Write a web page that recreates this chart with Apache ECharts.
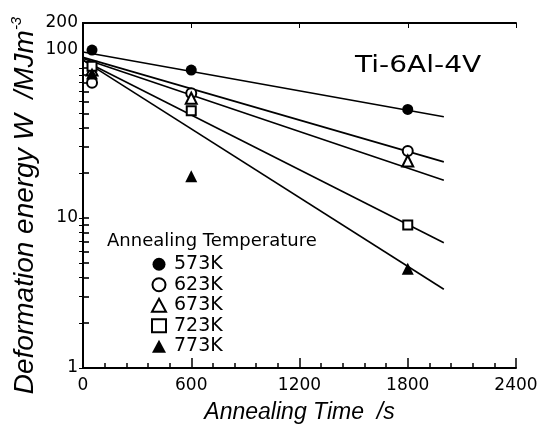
<!DOCTYPE html>
<html>
<head>
<meta charset="utf-8">
<script src="https://cdn.jsdelivr.net/npm/echarts@6/dist/echarts.min.js"></script>
<style>html,body{margin:0;padding:0;background:#fff}#c{width:538px;height:427px}</style>
</head>
<body>
<div id="c"></div>
<script>
// ---- data ----
const times = [50, 600, 1800];
const w573 = [132, 97, 53];
const w623 = [80, 68, 28];
const w673 = [97, 63, 24];
const w723 = [103, 52, 9.0];
const w773 = [92, 19, 4.6];
const fitT = [0, 2000];
const fit573 = [128, 47.4];
const fit623 = [118, 23.7];
const fit673 = [116, 17.9];
const fit723 = [113, 6.85];
const fit773 = [113, 3.35];
const seriesNames = ['573K', '623K', '673K', '723K', '773K'];
const yTicks = [1,2,3,4,5,6,7,8,9,10,20,30,40,50,60,70,80,90,100];
const yTickLabels = [1, 10, 100, 200];
const xTickLabels = ['0', '600', '1200', '1800', '2400'];

const FONT = '"Liberation Sans", Arial, sans-serif';
const DFONT = '"DejaVu Sans", sans-serif';
const pts = arr => times.map((t, i) => [t, arr[i]]);
const fit = arr => fitT.map((t, i) => [t, arr[i]]);

const symbols = [
  {symbol: 'circle', size: 11, color: '#000', border: 0},
  {symbol: 'circle', size: 10, color: '#fff', border: 2},
  {symbol: 'triangle', size: 11, color: '#fff', border: 2},
  {symbol: 'rect', size: 9, color: '#fff', border: 2},
  {symbol: 'triangle', size: 12, color: '#000', border: 0}
];
const pointData = [w573, w623, w673, w723, w773];
const fitData = [fit573, fit623, fit673, fit723, fit773];

const series = [];
fitData.forEach((f, i) => {
  series.push({
    type: 'line', name: 'fit' + seriesNames[i], data: fit(f), showSymbol: false,
    lineStyle: {color: '#000', width: 1.6}, silent: true, z: 2
  });
});
pointData.forEach((d, i) => {
  const s = symbols[i];
  series.push({
    type: 'scatter', name: seriesNames[i], data: pts(d), symbol: s.symbol, symbolSize: s.size,
    itemStyle: {color: s.color, borderColor: '#000', borderWidth: s.border, opacity: 1}, z: 5
  });
});

const chart = echarts.init(document.getElementById('c'), null, {renderer: 'canvas'});
chart.setOption({
  backgroundColor: '#fff',
  animation: false,
  title: {
    text: 'Annealing Temperature', left: 102, top: 227,
    textStyle: {fontFamily: DFONT, fontSize: 18, fontWeight: 'normal', color: '#000'}
  },
  graphic: [{
    type: 'text', x: 355, y: 55, scaleX: 1.22,
    style: {text: 'Ti-6Al-4V', font: 'normal 23px ' + DFONT, fill: '#000'}
  }],
  legend: {
    data: seriesNames, orient: 'vertical', left: 146, top: 249,
    itemWidth: 14, itemHeight: 13, itemGap: 0,
    textStyle: {fontFamily: DFONT, fontSize: 19, color: '#000', lineHeight: 20.5, padding: [0, 0, 0, 3]},
    selectedMode: false
  },
  grid: {left: 83, top: 23, right: 22, bottom: 59, containLabel: false, outerBoundsMode: 'none'},
  xAxis: [{
    type: 'value', min: 0, max: 2400, interval: 600,
    name: 'Annealing Time  /s', nameLocation: 'middle', nameGap: 33,
    nameTextStyle: {fontFamily: FONT, fontSize: 23, fontStyle: 'italic', color: '#000'},
    axisLine: {lineStyle: {color: '#000', width: 2}},
    axisTick: {inside: true, length: 10, lineStyle: {color: '#000', width: 1.5}},
    minorTick: {show: true, splitNumber: 5, length: 5, lineStyle: {color: '#000', width: 1.5}},
    splitLine: {show: false},
    axisLabel: {fontFamily: DFONT, fontSize: 17, color: '#000', margin: 9,
      formatter: (v) => xTickLabels[Math.round(v / 600)]}
  }, {
    type: 'value', min: 0, max: 2400, interval: 600, position: 'top',
    axisLine: {lineStyle: {color: '#000', width: 2}},
    axisTick: {inside: true, length: 5, lineStyle: {color: '#000', width: 1}},
    axisLabel: {show: false}, splitLine: {show: false}
  }],
  yAxis: [{
    type: 'log', logBase: 10, min: 1, max: 200, position: 'left',
    name: '{n|Deformation energy W  /MJm}{s|-3}', nameLocation: 'middle', nameGap: 41,
    nameMoveOverlap: false,
    nameTextStyle: {fontFamily: FONT, fontSize: 28, fontStyle: 'italic', color: '#000', padding: [0, 20, 0, 0],
      rich: {n: {fontFamily: FONT, fontSize: 28, fontStyle: 'italic'}, s: {fontFamily: FONT, fontSize: 15, fontStyle: 'italic', padding: [0, 0, 18, 0]}}},
    axisLine: {lineStyle: {color: '#000', width: 2}},
    axisTick: {inside: true, length: 6, customValues: yTicks, lineStyle: {color: '#000', width: 1.6}},
    splitLine: {show: false},
    axisLabel: {show: true, customValues: yTickLabels, fontFamily: DFONT, fontSize: 17, color: '#000', margin: 5,
      formatter: (v) => (Math.round(v) === 100 ? '{u|100}' : String(Math.round(v))),
      rich: {u: {fontFamily: DFONT, fontSize: 17, color: '#000', padding: [0, 0, 38, 0]}}}
  }, {
    type: 'log', logBase: 10, min: 1, max: 200, position: 'right',
    axisLine: {lineStyle: {color: '#000', width: 2}},
    axisTick: {inside: true, length: 4, customValues: yTicks, lineStyle: {color: '#000', width: 1}},
    axisLabel: {show: false}, splitLine: {show: false}
  }],
  series: series
});
</script>
</body>
</html>
